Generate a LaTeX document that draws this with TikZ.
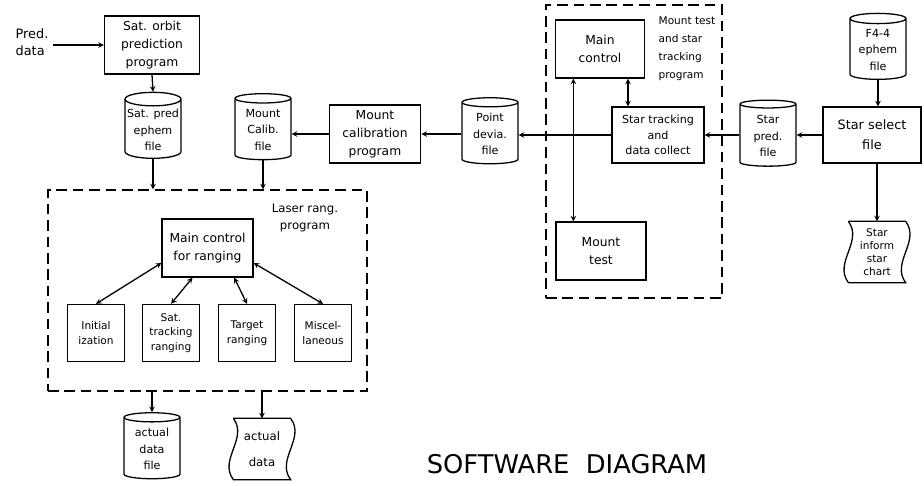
\documentclass[tikz,border=0pt]{standalone}
\usepackage{fontspec}
\setmainfont{DejaVu Sans}
\usetikzlibrary{shapes.geometric}

\begin{document}
\begin{tikzpicture}[x=0.03cm,y=-0.03cm,line width=1.1pt,
  box/.style={rectangle,draw,align=center,
    minimum width=2.75cm,minimum height=1.74cm,inner sep=1pt,
    font=\fontsize{10.5}{15.5}\selectfont},
  sub/.style={box,minimum width=1.71cm,minimum height=1.71cm,
    font=\fontsize{9}{12.5}\selectfont},
  file/.style={cylinder,shape border rotate=90,draw,aspect=0.25,
    minimum width=1.68cm,minimum height=1.98cm,inner sep=1pt,align=center,
    font=\fontsize{9.5}{14}\selectfont},
  doc/.style={rectangle,minimum width=1.68cm,minimum height=1.8cm,
    inner sep=1pt,align=center},
  grp/.style={rectangle,draw,dash pattern=on 9pt off 5pt},
  lbl/.style={align=left,font=\fontsize{9}{15.5}\selectfont},
  arr/.style={->,>=stealth},
  darr/.style={<->,>=stealth}]

  \useasboundingbox (0,0) rectangle (924,486);

  % group frames
  \node[grp,minimum width=9.57cm,minimum height=6.03cm] (laser) at (207.5,290.5) {};
  \node[grp,minimum width=5.28cm,minimum height=8.79cm] (mtbox) at (634,151.5) {};

  \node[align=left,font=\fontsize{11}{15}\selectfont] (pred) at (32,42) {Pred.\\data};
  \node[box,minimum width=2.85cm] (satprog) at (152,45) {Sat. orbit\\prediction\\program};
  \node[file] (satfile) at (153,130) {Sat. pred\\ephem\\file};
  \node[file] (calfile) at (263,130) {Mount\\Calib.\\file};
  \node[box] (calprog) at (375,134) {Mount\\calibration\\program};
  \node[file] (devfile) at (490,134) {Point\\devia.\\file};

  \node[box,minimum width=2.67cm] (mainctl) at (600,49) {Main\\control};
  \node[lbl] (mtlabel) at (687,49) {Mount test\\and star\\tracking\\program};
  \node[box,minimum width=2.76cm,minimum height=1.68cm,
    font=\fontsize{9.5}{13}\selectfont] (startrk) at (658,135) {Star tracking\\and\\data collect};
  \node[box,minimum width=2.7cm] (mtest) at (601,251) {Mount\\test};

  \node[file] (starfile) at (768,136) {Star\\pred.\\file};
  \node[box,minimum width=2.94cm,minimum height=1.68cm,
    font=\fontsize{11}{17}\selectfont] (starsel) at (872,135) {Star select\\file};
  \node[file] (ephfile) at (878,50) {F4-4\\ephem\\file};
  \node[doc,font=\fontsize{9}{11}\selectfont] (chart) at (877,252) {Star\\inform\\star\\chart};

  \node[align=center,font=\fontsize{10}{14}\selectfont] (laserlbl) at (305,218) {Laser rang.\\program};
  \node[box,minimum width=2.73cm] (rngctl) at (207.5,248) {Main control\\for ranging};
  \node[sub] (init) at (96,333) {Initial\\ization};
  \node[sub] (sattrk) at (171,333) {Sat.\\tracking\\ranging};
  \node[sub] (target) at (247,333) {Target\\ranging};
  \node[sub] (misc) at (323,333) {Miscel-\\laneous};

  \node[file] (actfile) at (152,449) {actual\\data\\file};
  \node[doc,font=\fontsize{10}{22}\selectfont] (actdata) at (262,449) {actual\\data};

  \node[font=\fontsize{22}{26}\selectfont] (title) at (567,464) {SOFTWARE\ \ DIAGRAM};

  % wavy outputs
  \foreach \d in {chart,actdata}
    \draw (\d.north west) -- (\d.north east)
      .. controls +(0.45cm,-0.6cm) and +(-0.45cm,0.6cm) .. (\d.south east)
      -- (\d.south west)
      .. controls +(-0.45cm,0.6cm) and +(0.45cm,-0.6cm) .. (\d.north west);

  \draw[arr] (pred.east |- satprog.west) -- (satprog.west);
  \draw[arr] (satprog.south) -- (satfile.north);
  \draw[arr] (satfile.south) -- (satfile.south |- laser.north);
  \draw[arr] (calfile.south) -- (calfile.south |- laser.north);
  \draw[arr] (calprog.west) -- (calfile.east |- calprog.west);
  \draw[arr] (devfile.west) -- (calprog.east |- devfile.west);
  \draw[arr] (startrk.west) -- (devfile.east |- startrk.west);
  \draw[darr] ([xshift=-0.8cm]mainctl.south) -- ([xshift=-0.8cm]mainctl.south |- mtest.north);
  \draw[darr] ([xshift=0.84cm]mainctl.south) -- ([xshift=0.84cm]mainctl.south |- startrk.north);
  \draw[arr] (starfile.west |- startrk.east) -- (startrk.east);
  \draw[arr] (starsel.west) -- (starfile.east |- starsel.west);
  \draw[arr] (ephfile.south) -- (ephfile.south |- starsel.north);
  \draw[arr] (starsel.south -| chart.north) -- (chart.north);

  \draw[darr] ([yshift=-0.45cm]rngctl.west) -- (init.north);
  \draw[darr] ([xshift=-0.45cm]rngctl.south) -- (sattrk.north);
  \draw[darr] ([xshift=0.8cm]rngctl.south) -- (target.north);
  \draw[darr] ([yshift=-0.45cm]rngctl.east) -- (misc.north);

  \draw[arr] (laser.south -| actfile.north) -- (actfile.north);
  \draw[arr] (laser.south -| actdata.north) -- (actdata.north);
\end{tikzpicture}
\end{document}
